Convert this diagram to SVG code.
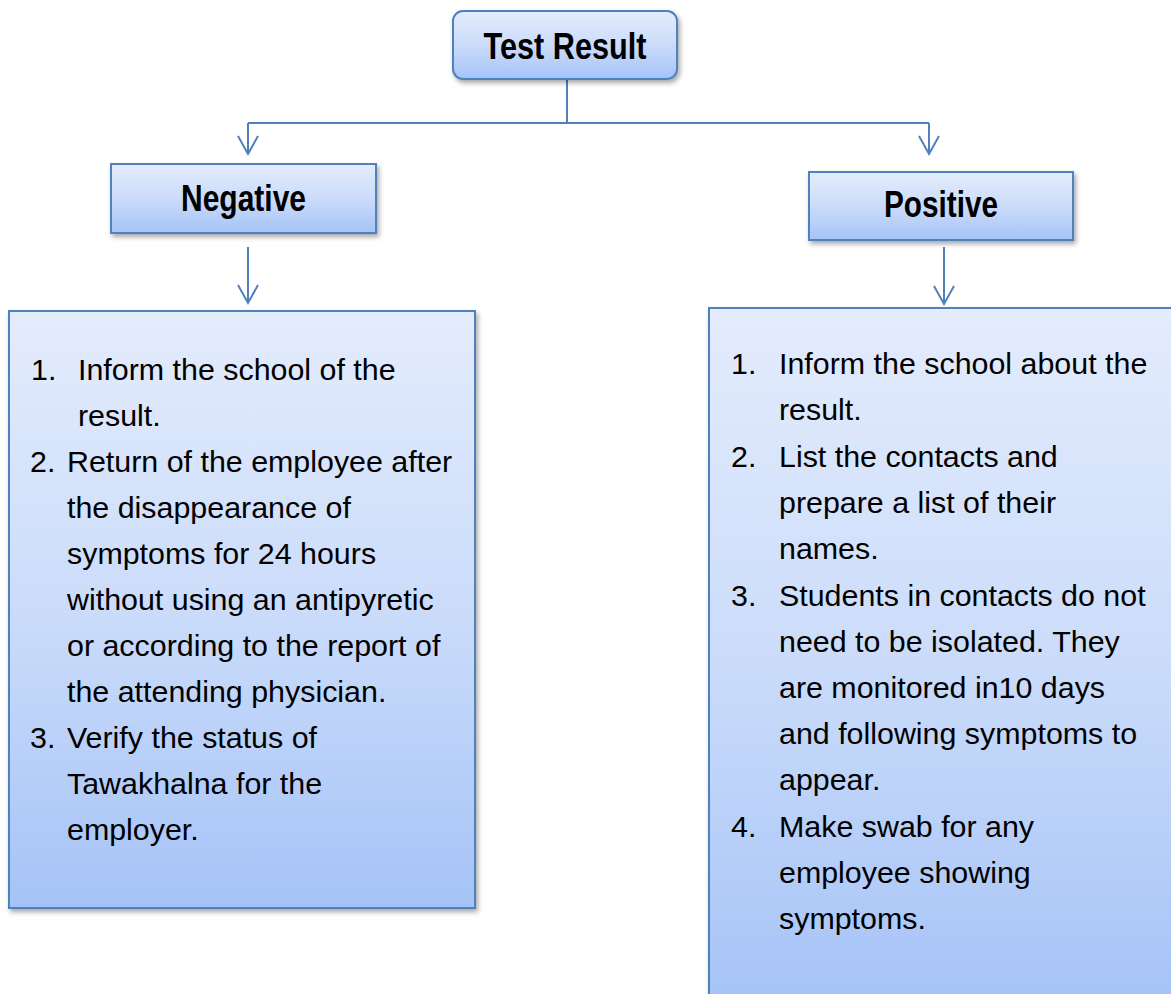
<svg xmlns="http://www.w3.org/2000/svg" width="1171" height="994" viewBox="0 0 1171 994">
  <style>
    .box { stroke: #4f81bd; stroke-width: 2; filter: url(#shadow); }
    .title { font-family: "Liberation Sans", Arial, sans-serif; font-weight: bold; font-size: 36px; fill: #000; text-anchor: middle; }
    .body { font-family: "Liberation Sans", Arial, sans-serif; font-size: 30.4px; fill: #000; }
    .conn { stroke: #4f81bd; stroke-width: 2; fill: none; }
  </style>
  <defs>
    <linearGradient id="g" x1="0" y1="0" x2="0" y2="1">
      <stop offset="0" stop-color="#e4ecfc"/>
      <stop offset="0.5" stop-color="#cbdcfa"/>
      <stop offset="1" stop-color="#a5c3f7"/>
    </linearGradient>
    <filter id="shadow" x="-10%" y="-10%" width="120%" height="130%">
      <feDropShadow dx="2" dy="3" stdDeviation="2.5" flood-color="#000" flood-opacity="0.35"/>
    </filter>
    <marker id="arr" markerUnits="userSpaceOnUse" viewBox="-20 -12 23 24" refX="0" refY="0" markerWidth="23" markerHeight="24" orient="auto">
      <path d="M-18,-10 L0,0 L-18,10" fill="none" stroke="#4f81bd" stroke-width="2"/>
    </marker>
  </defs>
  <rect width="1171" height="994" fill="#fff"/>

  <g id="connectors">
    <path class="conn" d="M567,79 V123 M248,123 H929"/>
    <path class="conn" d="M248,123 V154" marker-end="url(#arr)"/>
    <path class="conn" d="M929,123 V154" marker-end="url(#arr)"/>
    <path class="conn" d="M248,247 V303" marker-end="url(#arr)"/>
    <path class="conn" d="M944,247 V304" marker-end="url(#arr)"/>
  </g>

  <g id="test-result">
    <rect class="box" x="453" y="11" width="224" height="68" rx="10" fill="url(#g)"/>
    <text class="title" x="565" y="59" textLength="163" lengthAdjust="spacingAndGlyphs">Test Result</text>
  </g>

  <g id="negative">
    <rect class="box" x="111" y="164" width="265" height="69" fill="url(#g)"/>
    <text class="title" x="243.5" y="211" textLength="125" lengthAdjust="spacingAndGlyphs">Negative</text>
  </g>

  <g id="positive">
    <rect class="box" x="809" y="172" width="264" height="68" fill="url(#g)"/>
    <text class="title" x="941" y="217" textLength="114" lengthAdjust="spacingAndGlyphs">Positive</text>
  </g>

  <g id="negative-steps">
    <rect class="box" x="9" y="311" width="466" height="597" fill="url(#g)"/>
    <text class="body" x="31" y="380">1.</text>
    <text class="body" x="78" y="380">Inform the school of the</text>
    <text class="body" x="78" y="426">result.</text>
    <text class="body" x="30" y="472">2.</text>
    <text class="body" x="67" y="472">Return of the employee after</text>
    <text class="body" x="67" y="518">the disappearance of</text>
    <text class="body" x="67" y="564">symptoms for 24 hours</text>
    <text class="body" x="67" y="610">without using an antipyretic</text>
    <text class="body" x="67" y="656">or according to the report of</text>
    <text class="body" x="67" y="702">the attending physician.</text>
    <text class="body" x="30" y="748">3.</text>
    <text class="body" x="67" y="748">Verify the status of</text>
    <text class="body" x="67" y="794">Tawakhalna for the</text>
    <text class="body" x="67" y="840">employer.</text>
  </g>

  <g id="positive-steps">
    <rect class="box" x="709" y="308" width="480" height="700" fill="url(#g)"/>
    <text class="body" x="731" y="374">1.</text>
    <text class="body" x="779" y="374">Inform the school about the</text>
    <text class="body" x="779" y="420">result.</text>
    <text class="body" x="731" y="467">2.</text>
    <text class="body" x="779" y="467">List the contacts and</text>
    <text class="body" x="779" y="513">prepare a list of their</text>
    <text class="body" x="779" y="559">names.</text>
    <text class="body" x="731" y="606">3.</text>
    <text class="body" x="779" y="606">Students in contacts do not</text>
    <text class="body" x="779" y="652">need to be isolated. They</text>
    <text class="body" x="779" y="698">are monitored in10 days</text>
    <text class="body" x="779" y="744">and following symptoms to</text>
    <text class="body" x="779" y="790">appear.</text>
    <text class="body" x="731" y="837">4.</text>
    <text class="body" x="779" y="837">Make swab for any</text>
    <text class="body" x="779" y="883">employee showing</text>
    <text class="body" x="779" y="929">symptoms.</text>
  </g>
</svg>
